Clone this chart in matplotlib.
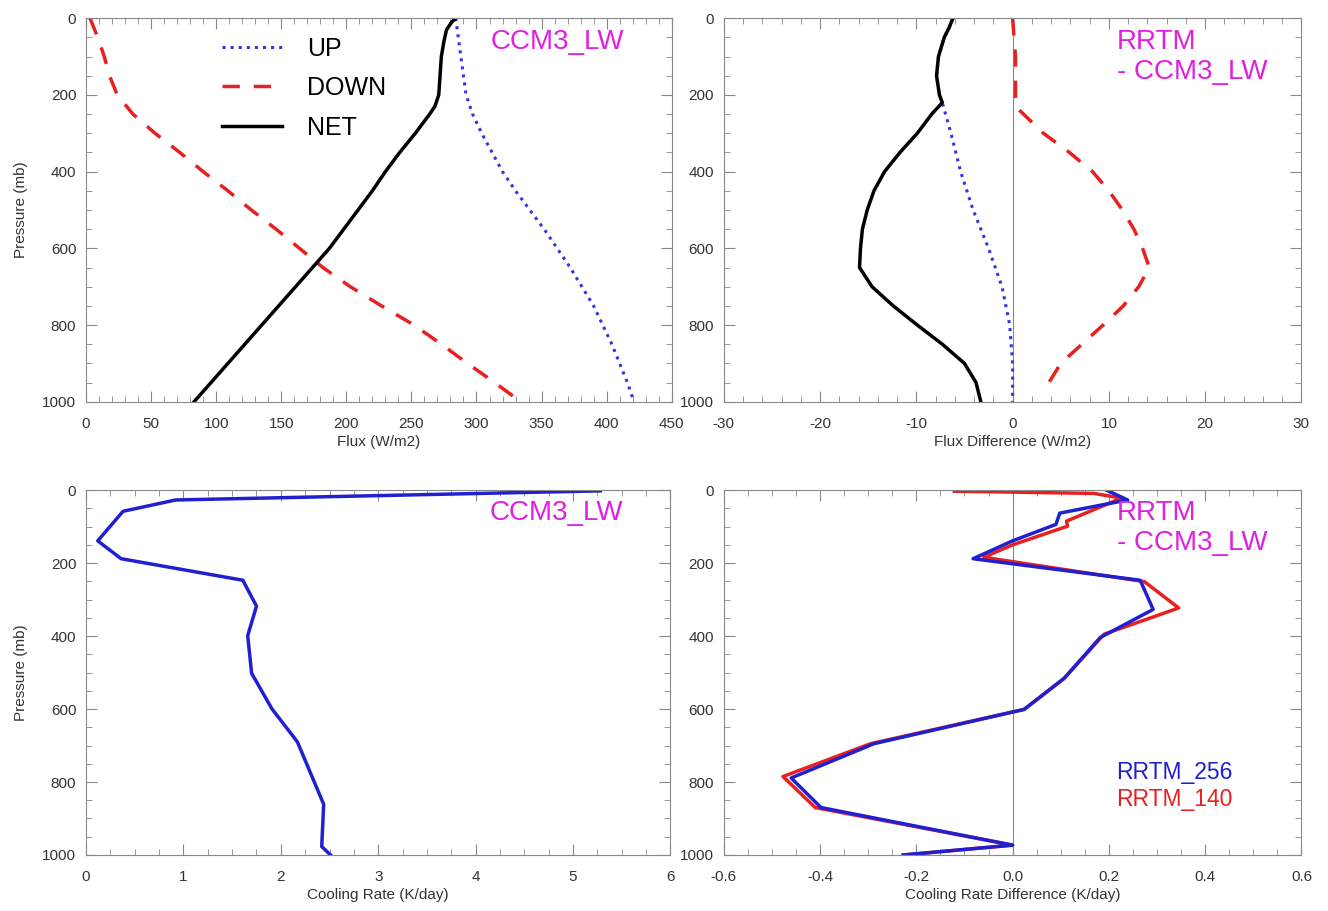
import numpy as np
import matplotlib.pyplot as plt
from matplotlib.ticker import AutoMinorLocator

plt.rcParams['font.family'] = ['Liberation Sans', 'DejaVu Sans']
plt.rcParams['axes.unicode_minus'] = False

# panel 1: CCM3_LW fluxes
p_up = [0, 50, 100, 150, 200, 250, 300, 350, 400, 450, 500, 550, 600, 650, 700, 750, 800, 850,
        900, 950, 1000]
flux_up = [284, 286, 288, 290, 292, 297, 304, 312, 320, 330, 341, 352, 362, 372, 381, 390, 397,
           404, 410, 416, 421]
p_down = [0, 50, 100, 150, 200, 250, 300, 350, 400, 450, 500, 550, 600, 650, 700, 750, 800, 850,
          900, 950, 1000]
flux_down = [3, 9, 14, 18, 24, 36, 53, 72, 90, 109, 127, 146, 164, 182, 203, 227, 252, 273, 293,
             314, 334]
p_net = [0, 10, 30, 60, 100, 150, 200, 230, 250, 300, 350, 400, 450, 500, 550, 600, 650, 700,
         750, 800, 850, 900, 950, 1000]
flux_net = [284, 281, 277, 275, 273, 272, 271, 268, 264, 253, 241, 230, 220, 209, 198, 187, 174,
            161, 148, 135, 122, 109, 96, 83]

# panel 2: RRTM - CCM3_LW flux differences
p_dnet = [0, 25, 50, 100, 150, 200, 220, 250, 300, 350, 400, 450, 500, 550, 600, 650, 700, 750,
          800, 850, 900, 950, 1000]
dflux_net = [-6.2, -6.6, -7.1, -7.7, -7.9, -7.6, -7.3, -8.4, -9.9, -11.7, -13.3, -14.4, -15.1,
             -15.6, -15.8, -15.9, -14.6, -12.4, -9.9, -7.3, -5.0, -3.8, -3.3]
p_dup = [0, 25, 50, 100, 150, 200, 220, 300, 400, 500, 600, 700, 800, 900, 1000]
dflux_up = [-6.2, -6.6, -7.1, -7.7, -7.9, -7.6, -7.3, -6.4, -5.4, -4.1, -2.5, -1.1, -0.3, 0.0, 0.0]
p_ddown = [0, 100, 200, 230, 300, 350, 400, 450, 500, 550, 600, 650, 700, 750, 800, 850, 900, 965]
dflux_down = [0.0, 0.3, 0.3, 0.3, 3.2, 5.9, 8.3, 10.0, 11.4, 12.6, 13.5, 14.2, 13.1, 11.5, 9.4,
              7.2, 5.0, 3.4]

# panel 3: CCM3_LW cooling rate
p_cr = [2, 27, 58, 139, 188, 247, 318, 399, 502, 600, 690, 861, 977, 1005]
cool_rate = [5.28, 0.92, 0.38, 0.12, 0.36, 1.61, 1.75, 1.66, 1.70, 1.91, 2.17, 2.44, 2.42, 2.53]

# panel 4: cooling rate differences
p_256 = [0, 27, 63, 94, 139, 188, 247, 327, 404, 516, 601, 695, 789, 870, 973, 1000]
dcr_256 = [0.195, 0.239, 0.098, 0.09, 0.0, -0.082, 0.265, 0.292, 0.182, 0.107, 0.024, -0.288,
           -0.46, -0.398, 0.0, -0.227]
p_140 = [3, 9, 22, 85, 99, 150, 184, 251, 323, 395, 516, 601, 695, 785, 870, 973, 1000]
dcr_140 = [-0.121, 0.169, 0.226, 0.112, 0.114, 0.0, -0.06, 0.274, 0.345, 0.19, 0.107, 0.024,
           -0.295, -0.477, -0.41, 0.0, -0.227]

magenta = '#e020e0'
grey = '#888888'
blue = '#2020d0'
red = '#e82020'

fig = plt.figure(figsize=(13.28, 9.11), dpi=100)
ax1 = fig.add_axes([0.0648, 0.559, 0.441, 0.421])
ax2 = fig.add_axes([0.545, 0.559, 0.435, 0.421])
ax3 = fig.add_axes([0.0648, 0.0615, 0.440, 0.4005])
ax4 = fig.add_axes([0.545, 0.0615, 0.435, 0.4005])


def style(ax, xlim, xmajor, xminor, xlabel, ylabel=True):
    ax.set_xlim(*xlim)
    ax.set_ylim(1000, 0)
    ax.set_xticks(np.arange(xlim[0], xlim[1] + xmajor / 2, xmajor))
    ax.set_yticks([0, 200, 400, 600, 800, 1000])
    ax.xaxis.set_minor_locator(AutoMinorLocator(xminor))
    ax.yaxis.set_minor_locator(AutoMinorLocator(4))
    ax.tick_params(which='both', direction='in', top=True, right=True, color=grey,
                   labelsize=11, labelcolor='#333333')
    ax.tick_params(axis='x', pad=11)
    ax.tick_params(axis='y', pad=7)
    ax.tick_params(which='major', length=8)
    ax.tick_params(which='minor', length=4)
    for s in ax.spines.values():
        s.set_color(grey)
    ax.set_xlabel(xlabel, fontsize=11, color='#333333', labelpad=3)
    if ylabel:
        ax.set_ylabel('Pressure (mb)', fontsize=11, color='#333333', labelpad=10)


def label(ax, s, y=0.975):
    ax.text(0.68, y, s, transform=ax.transAxes, color=magenta, fontsize=20, va='top',
            linespacing=1.2)


# top left
ax1.plot(flux_up, p_up, ':', color='#3535e0', lw=2.2, label='UP')
ax1.plot(flux_down, p_down, '--', color=red, lw=2.5, dashes=(5, 4), label='DOWN')
ax1.plot(flux_net, p_net, '-', color='black', lw=2.5, label='NET')
style(ax1, (0, 450), 50, 5, 'Flux (W/m2)')
ax1.legend(loc='upper left', bbox_to_anchor=(0.232, 0.952), frameon=False, fontsize=18,
           handlelength=2.4, labelspacing=0.62, handletextpad=1.0, borderpad=0,
           borderaxespad=0)
ax1.text(0.69, 0.972, 'CCM3_LW', transform=ax1.transAxes, color=magenta, fontsize=20, va='top')

# top right
ax2.axvline(0, color=grey, lw=0.8)
ax2.plot(dflux_up, p_dup, ':', color='#3535e0', lw=2.2)
ax2.plot(dflux_down, p_ddown, '--', color=red, lw=2.5, dashes=(5, 4))
ax2.plot(dflux_net, p_dnet, '-', color='black', lw=2.5)
style(ax2, (-30, 30), 10, 5, 'Flux Difference (W/m2)', ylabel=False)
label(ax2, 'RRTM\n- CCM3_LW', y=0.972)

# bottom left
ax3.plot(cool_rate, p_cr, '-', color=blue, lw=2.5)
style(ax3, (0, 6), 1, 4, 'Cooling Rate (K/day)')
ax3.text(0.69, 0.972, 'CCM3_LW', transform=ax3.transAxes, color=magenta, fontsize=20, va='top')

# bottom right
ax4.axvline(0, color=grey, lw=0.8)
ax4.plot(dcr_140, p_140, '-', color=red, lw=2.5)
ax4.plot(dcr_256, p_256, '-', color=blue, lw=2.5)
style(ax4, (-0.6, 0.6), 0.2, 4, 'Cooling Rate Difference (K/day)', ylabel=False)
ax4.set_xticklabels(['-0.6', '-0.4', '-0.2', '0.0', '0.2', '0.4', '0.6'])
label(ax4, 'RRTM\n- CCM3_LW', y=0.972)
ax4.text(0.68, 0.227, 'RRTM_256', transform=ax4.transAxes, color=blue, fontsize=16.5,
         va='center')
ax4.text(0.68, 0.151, 'RRTM_140', transform=ax4.transAxes, color=red, fontsize=16.5,
         va='center')

fig.savefig('out.png', dpi=100)
